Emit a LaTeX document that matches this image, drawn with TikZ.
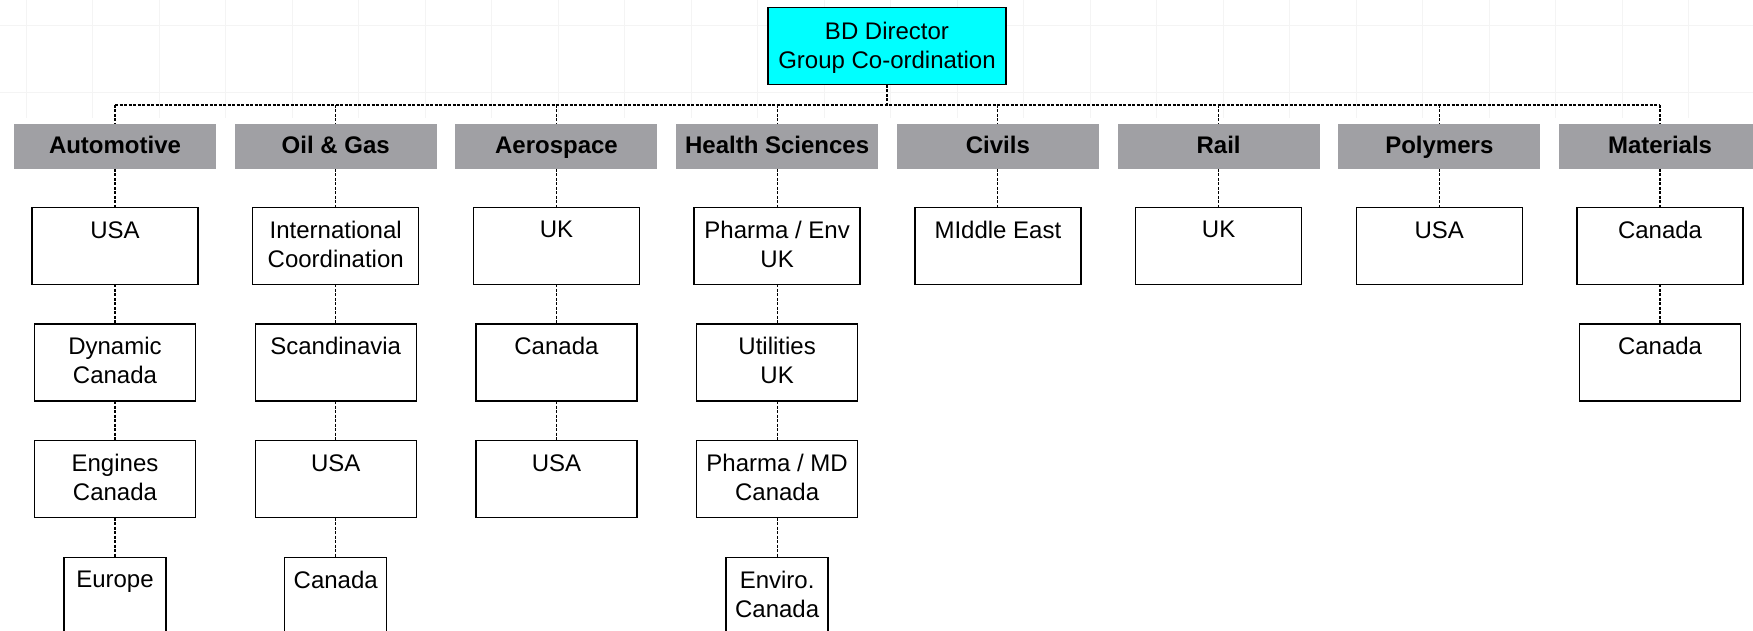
\documentclass[tikz,border=0pt]{standalone}
\usepackage{fontspec}
\setmainfont{Liberation Sans}
\usetikzlibrary{positioning}

\definecolor{headcyan}{RGB}{0,255,255}
\definecolor{sectorgray}{RGB}{160,160,164}
\definecolor{gridgray}{RGB}{244,244,244}

\begin{document}
\begin{tikzpicture}[node distance = 19.8pt and 9.36pt,
		font=\fontsize{12}{14.5}\selectfont,
		head/.style={draw, fill=headcyan, line width=0.7pt, outer sep=0pt, minimum width=119pt, minimum height=38.5pt, align=center, inner sep=0pt, text depth=1.2pt},
		sector/.style={fill=sectorgray, outer sep=0pt, minimum width=101pt, minimum height=22.5pt, inner sep=0pt, text height=8.8pt, text depth=1.5pt, font=\fontsize{12}{14.5}\selectfont\bfseries},
		unit/.style={draw, line width=0.7pt, outer sep=0pt, minimum width=83pt, minimum height=38.5pt, align=center, inner sep=0pt, text depth=1.7pt},
		subunit/.style={unit, minimum width=80.5pt},
		smallunit/.style={unit, minimum width=51pt},
		link/.style={-, line width=0.6pt, dash pattern=on 1.5pt off 0.75pt}]
		\useasboundingbox (0,0) rectangle (876.5pt,-315.5pt);
		\clip (0,0) rectangle (876.5pt,-315.5pt);
		% Background grid
		\draw[gridgray, line width=0.5pt, xstep=33.25pt, ystep=33.35pt, shift={(13pt,-13pt)}] (-13pt,13pt) grid (863.5pt,-46pt);
		% Nodes
		\node[head] (bd) at (443.5pt,-23.15pt) {BD Director\\Group Co-ordination};
		\node[sector] (auto) at (57.5pt,-73.25pt) {Automotive};
		\node[sector] (oil) [right=of auto] {Oil \& Gas};
		\node[sector] (aero) [right=of oil] {Aerospace};
		\node[sector] (health) [right=of aero] {Health Sciences};
		\node[sector] (civ) [right=of health] {Civils};
		\node[sector] (rail) [right=of civ] {Rail};
		\node[sector] (poly) [right=of rail] {Polymers};
		\node[sector] (mat) [right=of poly] {Materials};
		
		\node[unit] (auto1) [below=19.2pt of auto] {USA\\~};
		\node[subunit] (auto2) [below=of auto1] {Dynamic\\Canada};
		\node[subunit] (auto3) [below=of auto2] {Engines\\Canada};
		\node[smallunit] (auto4) [below=of auto3] {Europe\\~};
		
		\node[unit] (oil1) [below=19.2pt of oil] {International\\Coordination};
		\node[subunit] (oil2) [below=of oil1] {Scandinavia\\~};
		\node[subunit] (oil3) [below=of oil2] {USA\\~};
		\node[smallunit] (oil4) [below=of oil3] {Canada\\~};
		
		\node[unit] (aero1) [below=19.2pt of aero] {UK\\~};
		\node[subunit] (aero2) [below=of aero1] {Canada\\~};
		\node[subunit] (aero3) [below=of aero2] {USA\\~};
		
		\node[unit] (health1) [below=19.2pt of health] {Pharma / Env\\UK};
		\node[subunit] (health2) [below=of health1] {Utilities\\UK};
		\node[subunit] (health3) [below=of health2] {Pharma / MD\\Canada};
		\node[smallunit] (health4) [below=of health3] {Enviro.\\Canada};
		
		\node[unit] (civ1) [below=19.2pt of civ] {MIddle East\\~};
		\node[unit] (rail1) [below=19.2pt of rail] {UK\\~};
		\node[unit] (poly1) [below=19.2pt of poly] {USA\\~};
		\node[unit] (mat1) [below=19.2pt of mat] {Canada\\~};
		\node[subunit] (mat2) [below=of mat1] {Canada\\~};
		
		%Connectors
		\coordinate (bus) at (0,-52.5pt);
		\path[link]
		(bd) edge (bd |- bus)
		(auto |- bus) edge (mat |- bus)
		(auto |- bus) edge (auto)
		(oil |- bus) edge (oil)
		(aero |- bus) edge (aero)
		(health |- bus) edge (health)
		(civ |- bus) edge (civ)
		(rail |- bus) edge (rail)
		(poly |- bus) edge (poly)
		(mat |- bus) edge (mat)
		(auto) edge (auto1) (auto1) edge (auto2) (auto2) edge (auto3) (auto3) edge (auto4)
		(oil) edge (oil1) (oil1) edge (oil2) (oil2) edge (oil3) (oil3) edge (oil4)
		(aero) edge (aero1) (aero1) edge (aero2) (aero2) edge (aero3)
		(health) edge (health1) (health1) edge (health2) (health2) edge (health3) (health3) edge (health4)
		(civ) edge (civ1)
		(rail) edge (rail1)
		(poly) edge (poly1)
		(mat) edge (mat1) (mat1) edge (mat2)
		;
	\end{tikzpicture}
\end{document}
